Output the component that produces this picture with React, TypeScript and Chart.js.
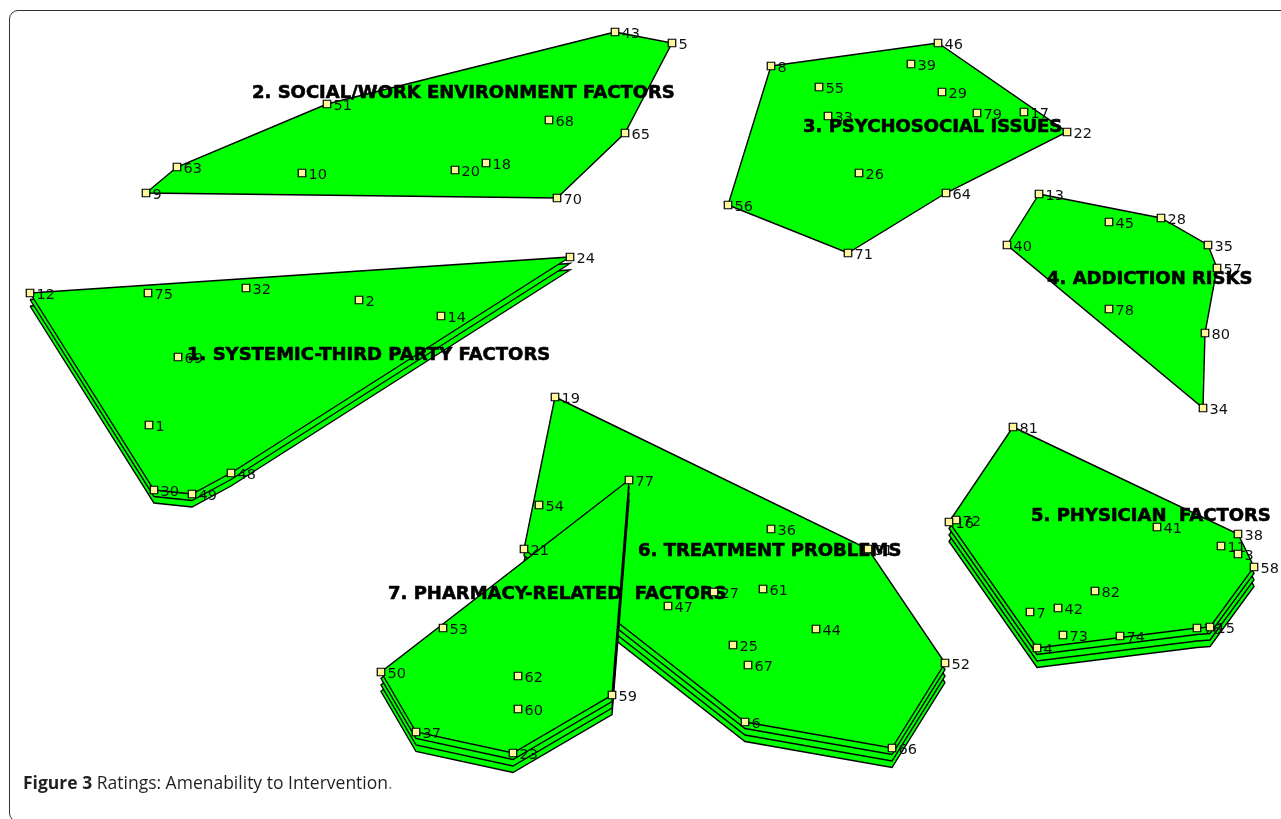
import React, { useEffect, useRef } from "react";
import { Chart, registerables } from "chart.js";

Chart.register(...registerables);

// Cluster names, label anchors and number of stacked layers (rating)
const clusterNames = [
  "1. SYSTEMIC-THIRD PARTY FACTORS",
  "2. SOCIAL/WORK ENVIRONMENT FACTORS",
  "3. PSYCHOSOCIAL ISSUES",
  "4. ADDICTION RISKS",
  "5. PHYSICIAN  FACTORS",
  "6. TREATMENT PROBLEMS",
  "7. PHARMACY-RELATED  FACTORS",
];
const clusterLayers = [3, 1, 1, 1, 4, 4, 4];
const clusterNameX = [187, 252, 803, 1047, 1031, 638, 388];
const clusterNameY = [353, 91, 125, 277, 514, 549, 592];

// Cluster 1
const c1Ids = [12, 75, 32, 2, 14, 24, 69, 1, 48, 30, 49];
const c1X = [30, 148, 246, 359, 441, 570, 178, 149, 231, 154, 192];
const c1Y = [293, 293, 288, 300, 316, 257, 357, 425, 473, 490, 494];
const c1Hull = [12, 24, 48, 49, 30];

// Cluster 2
const c2Ids = [43, 5, 51, 68, 65, 63, 10, 20, 18, 9, 70];
const c2X = [615, 672, 327, 549, 625, 177, 302, 455, 486, 146, 557];
const c2Y = [32, 43, 104, 120, 133, 167, 173, 170, 163, 193, 198];
const c2Hull = [43, 5, 65, 70, 9, 63, 51];

// Cluster 3
const c3Ids = [46, 8, 39, 55, 29, 33, 79, 17, 22, 26, 64, 56, 71];
const c3X = [938, 771, 911, 819, 942, 828, 977, 1024, 1067, 859, 946, 728, 848];
const c3Y = [43, 66, 64, 87, 92, 116, 113, 112, 132, 173, 193, 205, 253];
const c3Hull = [8, 46, 22, 64, 71, 56];

// Cluster 4
const c4Ids = [13, 45, 28, 35, 57, 40, 78, 80, 34];
const c4X = [1039, 1109, 1161, 1208, 1217, 1007, 1109, 1205, 1203];
const c4Y = [194, 222, 218, 245, 268, 245, 309, 333, 408];
const c4Hull = [13, 28, 35, 57, 80, 34, 40];

// Cluster 5
const c5Ids = [81, 72, 16, 41, 38, 11, 3, 58, 82, 7, 42, 73, 74, 4, 76, 15];
const c5X = [1013, 956, 949, 1157, 1238, 1221, 1238, 1254, 1095, 1030, 1058, 1063, 1120, 1037, 1197, 1210];
const c5Y = [427, 520, 522, 527, 534, 546, 554, 567, 591, 612, 608, 635, 636, 648, 628, 627];
const c5Hull = [81, 38, 58, 15, 76, 4, 16];

// Cluster 6
const c6Ids = [19, 54, 21, 36, 31, 27, 61, 47, 44, 25, 67, 52, 6, 66];
const c6X = [555, 539, 524, 771, 868, 714, 763, 668, 816, 733, 748, 945, 745, 892];
const c6Y = [397, 505, 549, 529, 549, 592, 589, 606, 629, 645, 665, 663, 722, 748];
const c6Hull = [19, 31, 52, 66, 6, 21];

// Cluster 7
const c7Ids = [77, 53, 50, 62, 60, 59, 37, 23];
const c7X = [629, 443, 381, 518, 518, 612, 416, 513];
const c7Y = [480, 628, 672, 676, 709, 695, 732, 753];
const c7Hull = [77, 59, 23, 37, 50];

const clusterIds = [c1Ids, c2Ids, c3Ids, c4Ids, c5Ids, c6Ids, c7Ids];
const clusterXs = [c1X, c2X, c3X, c4X, c5X, c6X, c7X];
const clusterYs = [c1Y, c2Y, c3Y, c4Y, c5Y, c6Y, c7Y];
const clusterHulls = [c1Hull, c2Hull, c3Hull, c4Hull, c5Hull, c6Hull, c7Hull];

const LAYER_SHIFT = 6.5;

export default function App() {
  const canvasRef = useRef<HTMLCanvasElement | null>(null);

  useEffect(() => {
    if (!canvasRef.current) return;
    const datasets: any[] = [];

    clusterIds.forEach((ids, c) => {
      const hull = clusterHulls[c];
      const pts = hull.map((id) => {
        const i = ids.indexOf(id);
        return { x: clusterXs[c][i], y: clusterYs[c][i] };
      });
      for (let k = clusterLayers[c] - 1; k >= 0; k--) {
        const shifted = pts.map((p) => ({ x: p.x, y: p.y + k * LAYER_SHIFT }));
        shifted.push({ ...shifted[0] });
        datasets.push({
          data: shifted,
          showLine: true,
          fill: "shape",
          backgroundColor: "#00ff00",
          borderColor: "#000000",
          borderWidth: 1.4,
          pointRadius: 0,
          pointHoverRadius: 0,
          tension: 0,
          clip: false,
        });
      }
    });

    const allPoints: { x: number; y: number; id: number }[] = [];
    clusterIds.forEach((ids, c) => {
      ids.forEach((id, i) => allPoints.push({ x: clusterXs[c][i], y: clusterYs[c][i], id }));
    });
    const pointsIndex = datasets.length;
    datasets.push({
      data: allPoints.map((p) => ({ x: p.x, y: p.y })),
      showLine: false,
      fill: false,
      pointStyle: "rect",
      pointRadius: 5.3,
      pointHoverRadius: 5.3,
      pointBackgroundColor: "#fff79a",
      pointBorderColor: "#000000",
      pointBorderWidth: 1.2,
      clip: false,
    });

    const n = datasets.length;
    datasets.forEach((d, i) => (d.order = n - i));

    const textPlugin = {
      id: "conceptText",
      beforeDatasetDraw(chart: any, args: any) {
        if (args.index !== pointsIndex) return;
        const ctx = chart.ctx;
        const xs = chart.scales.x;
        const ys = chart.scales.y;
        ctx.save();
        ctx.font = '14.5px "DejaVu Sans"';
        ctx.fillStyle = "#111111";
        ctx.textAlign = "left";
        ctx.textBaseline = "alphabetic";
        allPoints.forEach((p) => {
          ctx.fillText(String(p.id), xs.getPixelForValue(p.x) + 6.5, ys.getPixelForValue(p.y) + 5.5);
        });
        ctx.font = 'bold 18px "DejaVu Sans"';
        ctx.fillStyle = "#000000";
        ctx.strokeStyle = "#000000";
        ctx.lineWidth = 0.6;
        clusterNames.forEach((name, c) => {
          const px = xs.getPixelForValue(clusterNameX[c]);
          const py = ys.getPixelForValue(clusterNameY[c]) + 6.6;
          ctx.fillText(name, px, py);
          ctx.strokeText(name, px, py);
        });
        ctx.restore();
      },
    };

    const chart = new Chart(canvasRef.current, {
      type: "line",
      data: { datasets },
      options: {
        animation: false,
        responsive: true,
        maintainAspectRatio: false,
        layout: { padding: 0, autoPadding: false },
        events: [],
        plugins: { legend: { display: false }, tooltip: { enabled: false } },
        scales: {
          x: { type: "linear", min: 0, max: 1281, display: false },
          y: { type: "linear", min: 0, max: 819, reverse: true, display: false },
        },
      },
      plugins: [textPlugin],
    } as any);

    return () => chart.destroy();
  }, []);

  return (
    <div
      style={{
        position: "fixed",
        left: 0,
        top: 0,
        width: 1281,
        height: 819,
        background: "#ffffff",
        overflow: "hidden",
      }}
    >
      <div style={{ position: "absolute", left: 0, top: 0, width: 1281, height: 819 }}>
        <canvas ref={canvasRef} />
      </div>
      <div
        style={{
          position: "absolute",
          left: 9,
          top: 10,
          width: 1300,
          height: 812,
          border: "1.7px solid #333333",
          borderRadius: 9,
          boxSizing: "border-box",
          pointerEvents: "none",
        }}
      />
      <div
        style={{
          position: "absolute",
          left: 23,
          top: 771,
          fontFamily: '"Open Sans", "Noto Sans", sans-serif',
          fontSize: 17.5,
          color: "#231f20",
          whiteSpace: "nowrap",
          lineHeight: "22px",
        }}
      >
        <b>Figure 3</b> Ratings: Amenability to Intervention<span style={{ color: "#888" }}>.</span>
      </div>
    </div>
  );
}
